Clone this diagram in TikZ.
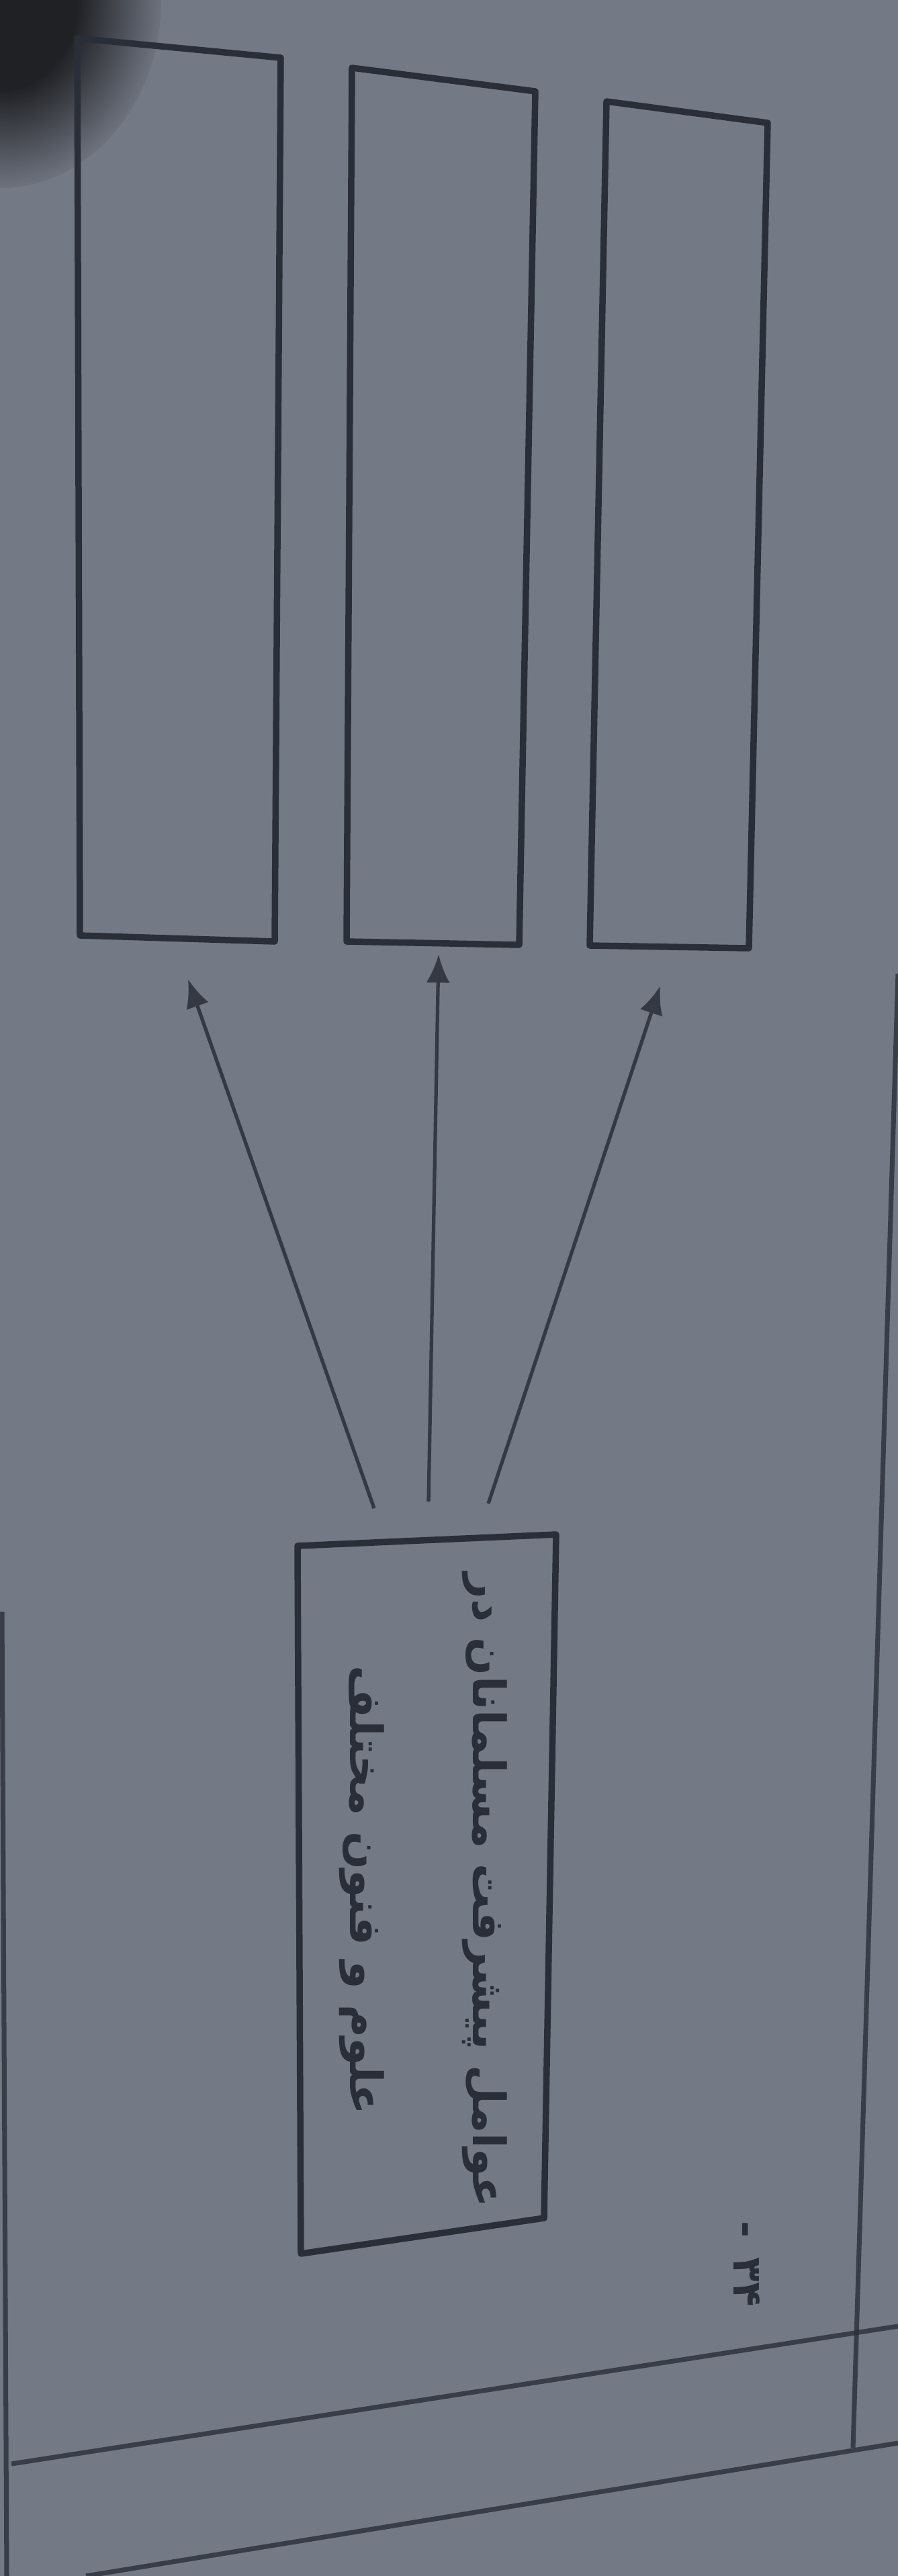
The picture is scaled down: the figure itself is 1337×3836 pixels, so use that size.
\documentclass[tikz,border=0pt]{standalone}
\usepackage{fontspec}
\usetikzlibrary{arrows.meta}
\newfontfamily\persianfont[Script=Arabic]{DejaVu Sans}
\TeXXeTstate=1
\definecolor{paper}{RGB}{115,121,133}
\definecolor{ink}{RGB}{42,46,56}
\definecolor{shd}{RGB}{32,33,37}
\pgfdeclareradialshading{cornershade}{\pgfpoint{0bp}{0bp}}{color(0bp)=(shd); color(12bp)=(shd); color(26bp)=(paper); color(50bp)=(paper)}
\tikzset{
  outline/.style={draw=ink, line width=2.7pt, line join=round},
  holder/.style={draw=none, inner sep=0pt, minimum width=#1},
  conn/.style={draw=ink!85!paper, line width=1.5pt, -{Latex[length=12pt,width=10pt]}},
  pageline/.style={draw=ink, line width=2pt, opacity=0.8},
  boxtext/.style={rotate=-90, align=center, text=ink,
    font=\persianfont\bfseries\fontsize{19}{52}\selectfont},
  pagenum/.style={rotate=-90, text=ink, font=\persianfont\bfseries\fontsize{17}{20}\selectfont}
}
\begin{document}
\begin{tikzpicture}[x={(0.01cm,0)}, y={(0,-0.01cm)}]
  \useasboundingbox (0,0) rectangle (1337,3836);
  \fill[paper] (0,0) rectangle (1337,3836);
  \begin{scope}
    \clip (0,0) rectangle (1337,3836);
    \shade[shading=cornershade] (0,0) ellipse [x radius=2.4cm, y radius=2.8cm];
  \end{scope}

  % page frame lines of the photographed sheet
  \draw[pageline] (1337,1450) -- (1270,3645);
  \draw[pageline] (3,2400) -- (10,3836);
  \draw[pageline] (17,3669) -- (1337,3464);
  \draw[pageline] (128,3836) -- (1337,3638);

  % holders (named nodes) for the four boxes
  \node[holder=3.03cm, minimum height=13.45cm] (b1) at (266.5,729.5) {};
  \node[holder=2.81cm, minimum height=13.07cm] (b2) at (656.5,753.5) {};
  \node[holder=2.65cm, minimum height=12.61cm] (b3) at (1010.5,780.5) {};
  \node[holder=3.85cm, minimum height=10.71cm] (c) at (635.5,2820.5) {};

  % box outlines (slightly skewed by the photo's perspective)
  \draw[outline] (115,57) -- (418,86) -- (409,1402) -- (119,1393) -- cycle;
  \draw[outline] (524,101) -- (797,136) -- (773,1407) -- (516,1402) -- cycle;
  \draw[outline] (903,151) -- (1143,183) -- (1115,1412) -- (878,1408) -- cycle;
  \draw[outline] (443,2302) -- (828,2285) -- (810,3303) -- (448,3356) -- cycle;

  % text of the central box
  \node[boxtext] (ct) at (630,2815)
    {\beginR عوامل پیشرفت مسلمانان در\endR\\\beginR علوم و فنون مختلف\endR};

  % connectors
  \draw[conn] ([shift={(-78.5,-38)}]c.north) -- ([shift={(13.5,55)}]b1.south);
  \draw[conn] ([shift={(2.5,-48)}]c.north) -- ([shift={(-3.5,13)}]b2.south);
  \draw[conn] ([shift={(91.5,-45)}]c.north) -- ([shift={(-27.5,56)}]b3.south);

  % page number
  \node[pagenum] (pn) at (1112,3371) {-\hspace{0.5em}۳۴};
\end{tikzpicture}
\end{document}
